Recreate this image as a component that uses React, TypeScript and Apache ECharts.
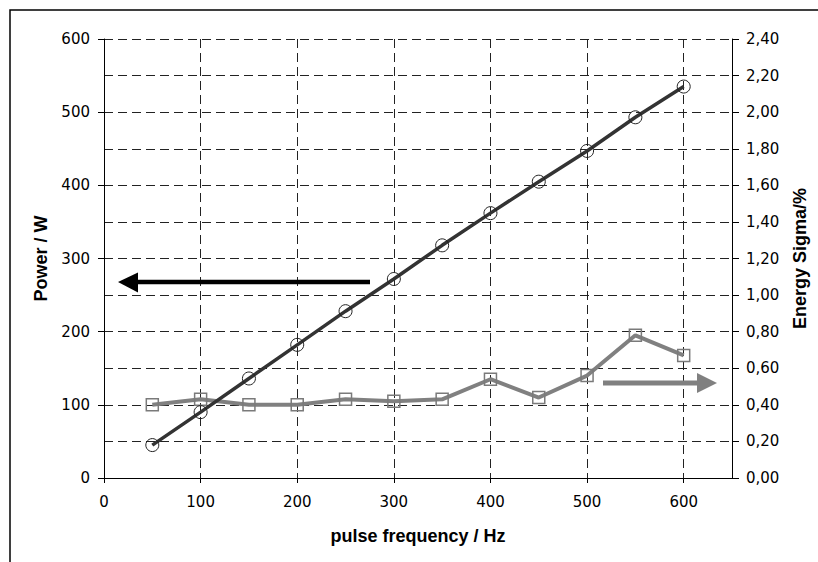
import React, { useEffect, useRef } from "react";
import * as echarts from "echarts";

const frequencies = [50, 100, 150, 200, 250, 300, 350, 400, 450, 500, 550, 600];
const powerW = [45, 90, 136, 182, 228, 272, 318, 362, 405, 447, 493, 535];
const energySigma = [0.40, 0.43, 0.40, 0.40, 0.43, 0.42, 0.43, 0.54, 0.44, 0.56, 0.78, 0.67];
const xTickValues = [0, 100, 200, 300, 400, 500, 600];

const xTitle = "pulse frequency / Hz";
const yLeftTitle = "Power / W";
const yRightTitle = "Energy Sigma/%";

const tickFont = "DejaVu Sans";
const titleFont = "Liberation Sans";

export default function App() {
  const ref = useRef<HTMLDivElement>(null);

  useEffect(() => {
    if (!ref.current) return;
    const chart = echarts.init(ref.current, null, { renderer: "svg" });
    const gridLine = { show: true, lineStyle: { color: "#222", type: [9, 5] as any, width: 1 } };
    const axisLine = { show: true, lineStyle: { color: "#000", width: 1 } };
    const labelStyle = { color: "#000", fontFamily: tickFont, fontSize: 15 };
    const nameStyle = { color: "#000", fontFamily: titleFont, fontSize: 18, fontWeight: "bold" as const };

    chart.setOption({
      animation: false,
      backgroundColor: "#fff",
      grid: { left: 104, right: 86, top: 39, bottom: 84, containLabel: false },
      xAxis: {
        type: "value",
        min: 0,
        max: 650,
        interval: 50,
        axisLine,
        axisTick: { show: true, length: 5, customValues: xTickValues, lineStyle: { color: "#000" } },
        axisLabel: { ...labelStyle, margin: 16, customValues: xTickValues },
        splitLine: gridLine,
        name: xTitle,
        nameLocation: "middle",
        nameGap: 49,
        nameTextStyle: nameStyle,
      },
      yAxis: [
        {
          type: "value",
          min: 0,
          max: 600,
          interval: 100,
          position: "left",
          axisLine,
          axisTick: { show: true, length: 6, lineStyle: { color: "#000" } },
          axisLabel: { ...labelStyle, margin: 14 },
          splitLine: { show: false },
          name: yLeftTitle,
          nameLocation: "middle",
          nameGap: 54,
          nameRotate: 90,
          nameTextStyle: nameStyle,
        },
        {
          type: "value",
          min: 0,
          max: 2.4,
          interval: 0.2,
          position: "right",
          axisLine,
          axisTick: { show: true, length: 7, lineStyle: { color: "#000" } },
          axisLabel: {
            ...labelStyle,
            margin: 14,
            formatter: (v: number) => v.toFixed(2).replace(".", ","),
          },
          splitLine: gridLine,
          name: yRightTitle,
          nameLocation: "middle",
          nameGap: 59,
          nameRotate: 90,
          nameTextStyle: nameStyle,
        },
      ],
      series: [
        {
          name: yRightTitle,
          type: "line",
          yAxisIndex: 1,
          data: frequencies.map((f, i) => [f, energySigma[i]]),
          symbol: "rect",
          symbolSize: 12,
          lineStyle: { color: "#808080", width: 4 },
          itemStyle: { color: "rgba(255,255,255,0)", borderColor: "#7a7a7a", borderWidth: 1.5 },
          z: 2,
        },
        {
          name: yLeftTitle,
          type: "line",
          yAxisIndex: 0,
          data: frequencies.map((f, i) => [f, powerW[i]]),
          symbol: "circle",
          symbolSize: 13,
          lineStyle: { color: "#333", width: 3.5 },
          itemStyle: { color: "rgba(255,255,255,0)", borderColor: "#222", borderWidth: 1 },
          z: 3,
        },
      ],
      graphic: [
        {
          type: "rect",
          shape: { x: 10, y: 10, width: 1000, height: 1000 },
          style: { fill: "none", stroke: "#000", lineWidth: 1.5 },
          z: -1,
        },
        {
          type: "line",
          shape: { x1: 370, y1: 282, x2: 134, y2: 282 },
          style: { stroke: "#000", lineWidth: 4.5 },
          z: 10,
        },
        {
          type: "polygon",
          shape: { points: [[118, 282], [138, 272.5], [138, 292.5]] },
          style: { fill: "#000" },
          z: 10,
        },
        {
          type: "line",
          shape: { x1: 603, y1: 383, x2: 700, y2: 383 },
          style: { stroke: "#808080", lineWidth: 5 },
          z: 10,
        },
        {
          type: "polygon",
          shape: { points: [[717, 383], [697, 373], [697, 393]] },
          style: { fill: "#808080" },
          z: 10,
        },
      ],
    });
    return () => chart.dispose();
  }, []);

  return (
    <div
      ref={ref}
      style={{ position: "fixed", left: 0, top: 0, width: 818, height: 562, background: "#fff" }}
    />
  );
}
